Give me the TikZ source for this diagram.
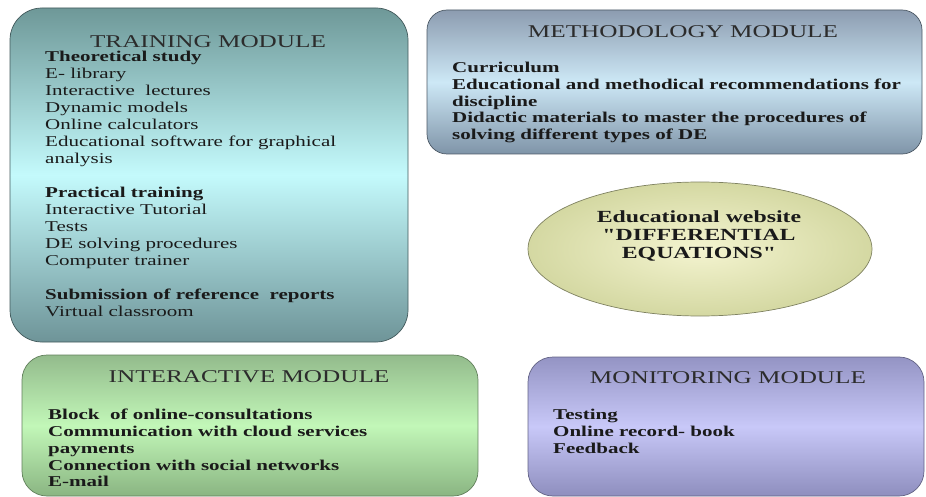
\documentclass[tikz,border=0pt]{standalone}
\usepackage{fontspec}
\setmainfont[FakeStretch=1.4]{Liberation Serif}
% same face without the tex-text mapping, so " stays straight
\newfontfamily\sitefont[FakeStretch=1.4]{Liberation Serif}
\usetikzlibrary{shapes.geometric}
\definecolor{ink}{HTML}{1A1A1A}
\definecolor{tealtop}{HTML}{6E9898}
\definecolor{tealmid}{HTML}{C4FAFC}
\definecolor{tealbot}{HTML}{6E9498}
\definecolor{steeltop}{HTML}{8C9CB0}
\definecolor{steelmid}{HTML}{CDE8F6}
\definecolor{steelbot}{HTML}{7F94A8}
\definecolor{leaftop}{HTML}{93BB8C}
\definecolor{leafmid}{HTML}{C2F7B8}
\definecolor{leafbot}{HTML}{8AB582}
\definecolor{liltop}{HTML}{9494C4}
\definecolor{lilmid}{HTML}{C8C8F8}
\definecolor{lilbot}{HTML}{8E8EBE}
\definecolor{straw}{HTML}{F4F4D0}
\definecolor{strawedge}{HTML}{D4D8A2}
\begin{document}
\begin{tikzpicture}[x=1pt,y=-1pt,
  module/.style={rectangle,rounded corners=#1,line width=0.7pt,inner sep=0},
  module/.default=25pt,
  head/.style={font=\fontsize{18}{21}\selectfont,text=ink!92,inner sep=0},
  list/.style={font=\fontsize{15}{17}\selectfont,text=ink,align=left,inner sep=0,anchor=north west}]
\useasboundingbox (0,0) rectangle (926,497);
% the four module boxes
\node[module=32pt,draw=tealbot!60!black,minimum width=398pt,minimum height=334pt,
  top color=tealtop,bottom color=tealbot,middle color=tealmid] (train) at (209,175) {};
\node[module=20pt,draw=steelbot!60!black,minimum width=495pt,minimum height=144pt,
  top color=steeltop,bottom color=steelbot,middle color=steelmid] (method) at (674.5,82) {};
\node[module,draw=leafbot!70!black,minimum width=456pt,minimum height=141pt,
  top color=leaftop,bottom color=leafbot,middle color=leafmid] (inter) at (250,425.5) {};
\node[module,draw=lilbot!70!black,minimum width=396pt,minimum height=139pt,
  top color=liltop,bottom color=lilbot,middle color=lilmid] (monit) at (726,426.5) {};
% the site in the middle
\node[ellipse,draw=strawedge!60!black,line width=0.7pt,inner sep=0,minimum width=344pt,minimum height=134pt,
  inner color=straw,outer color=strawedge] (site) at (700,249) {};
\node[font=\sitefont\fontsize{17}{18}\selectfont\bfseries,text=ink,align=center,inner sep=0] (sitetext) at (699,236)
  {Educational website\\"DIFFERENTIAL\\EQUATIONS"};

\node[head] (trainhead) at (208,42) {TRAINING MODULE};
\node[list] (trainlist) at (45,51) {\textbf{Theoretical study}\\E- library\\Interactive~ lectures\\Dynamic models\\
  Online calculators\\Educational software for graphical\\analysis\\[17pt]
  \textbf{Practical training}\\Interactive Tutorial\\Tests\\DE solving procedures\\Computer trainer\\[17pt]
  \textbf{Submission of reference~ reports}\\Virtual classroom};

\node[head] (methodhead) at (683,32) {METHODOLOGY MODULE};
\node[list,font=\fontsize{15}{16.7}\selectfont\bfseries] (methodlist) at (452,62) {Curriculum\\
  Educational and methodical recommendations for\\discipline\\
  Didactic materials to master the procedures of\\solving different types of DE};

\node[head] (interhead) at (249,377) {INTERACTIVE MODULE};
\node[list,font=\fontsize{15}{16.8}\selectfont\bfseries] (interlist) at (48,409) {Block~ of online-consultations\\
  Communication with cloud services\\payments\\Connection with social networks\\E-mail};

\node[head] (monithead) at (728,378) {MONITORING MODULE};
\node[list,font=\fontsize{15}{16.7}\selectfont\bfseries] (monitlist) at (553,409) {Testing\\Online record- book\\Feedback};
\end{tikzpicture}
\end{document}
